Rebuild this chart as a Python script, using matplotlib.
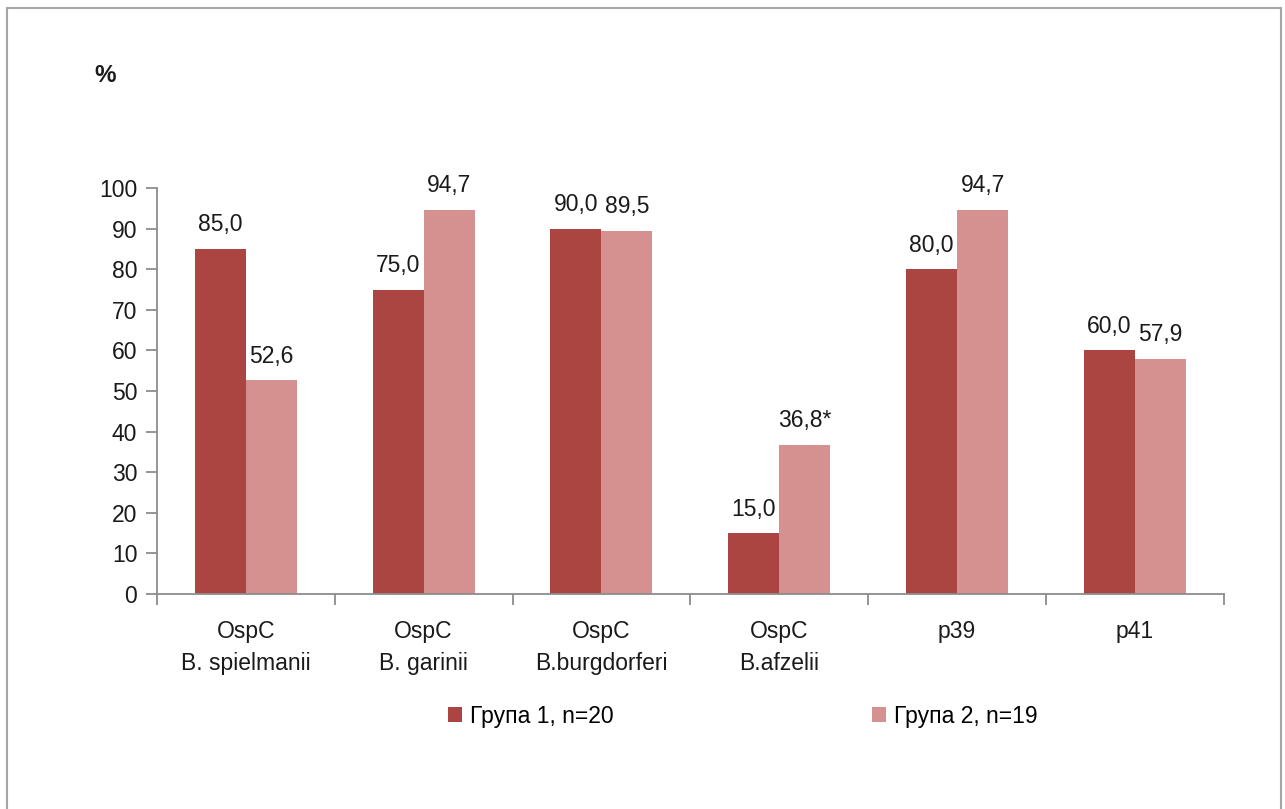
import numpy as np
import matplotlib.pyplot as plt
from matplotlib.patches import Rectangle

plt.rcParams['font.family'] = ['Liberation Sans Narrow', 'Liberation Sans', 'DejaVu Sans']

categories = ['OspC\nB. spielmanii', 'OspC\nB. garinii', 'OspC\nB.burgdorferi',
              'OspC\nB.afzelii', 'p39', 'p41']
group1 = [85.0, 75.0, 90.0, 15.0, 80.0, 60.0]
group2 = [52.6, 94.7, 89.5, 36.8, 94.7, 57.9]
marks2 = ['', '', '', '*', '', '']
series_names = ['Група 1, n=20', 'Група 2, n=19']

c1 = '#ab4542'
c2 = '#d49190'
axis_col = '#8c8c8c'
txt_col = '#1a1a1a'

fig = plt.figure(figsize=(12.85, 8.09), dpi=100)
ax = fig.add_axes([0.122, 0.2658, 0.8305, 0.5018])

x = np.arange(len(categories))
w = 0.287
b1 = ax.bar(x - w / 2, group1, w, color=c1, label=series_names[0])
b2 = ax.bar(x + w / 2, group2, w, color=c2, label=series_names[1])

fmt = lambda v: f'{v:.1f}'.replace('.', ',')
ax.bar_label(b1, labels=[fmt(v) for v in group1], padding=9, fontsize=16.5, color=txt_col)
ax.bar_label(b2, labels=[fmt(v) + m for v, m in zip(group2, marks2)], padding=9,
             fontsize=16.5, color=txt_col)

ax.set_xlim(-0.5, len(categories) - 0.5)
ax.set_ylim(0, 100)
ax.set_yticks(range(0, 101, 10))
ax.tick_params(axis='y', labelsize=16.5, length=8, width=1.3, color=axis_col,
               labelcolor=txt_col, pad=6)

# category labels centred, tick marks on group boundaries
ax.set_xticks(x)
ax.set_xticklabels(categories, fontsize=16.5, color=txt_col, linespacing=1.5)
ax.tick_params(axis='x', which='major', length=0, pad=19)
ax.set_xticks(np.arange(-0.5, len(categories)), minor=True)
ax.tick_params(axis='x', which='minor', length=8, width=1.3, color=axis_col)

for s in ['top', 'right']:
    ax.spines[s].set_visible(False)
for s in ['left', 'bottom']:
    ax.spines[s].set_color(axis_col)
    ax.spines[s].set_linewidth(1.3)

fig.text(105 / 1285, 1 - 76 / 809, '%', fontsize=17.5, fontweight='bold',
         ha='center', va='center', color=txt_col)

fig.legend(handles=[b1, b2], loc='center', bbox_to_anchor=(743 / 1285, 1 - 716 / 809),
           ncol=2, frameon=False, fontsize=16.5, handlelength=0.6, handleheight=0.6,
           handletextpad=0.35, columnspacing=11.3)

fig.add_artist(Rectangle((7 / 1285, -0.02), 1274 / 1285, 1.02 - 8 / 809,
                         transform=fig.transFigure, fill=False,
                         edgecolor='#a6a6a6', linewidth=1.5))

fig.savefig('out.png', dpi=100)
